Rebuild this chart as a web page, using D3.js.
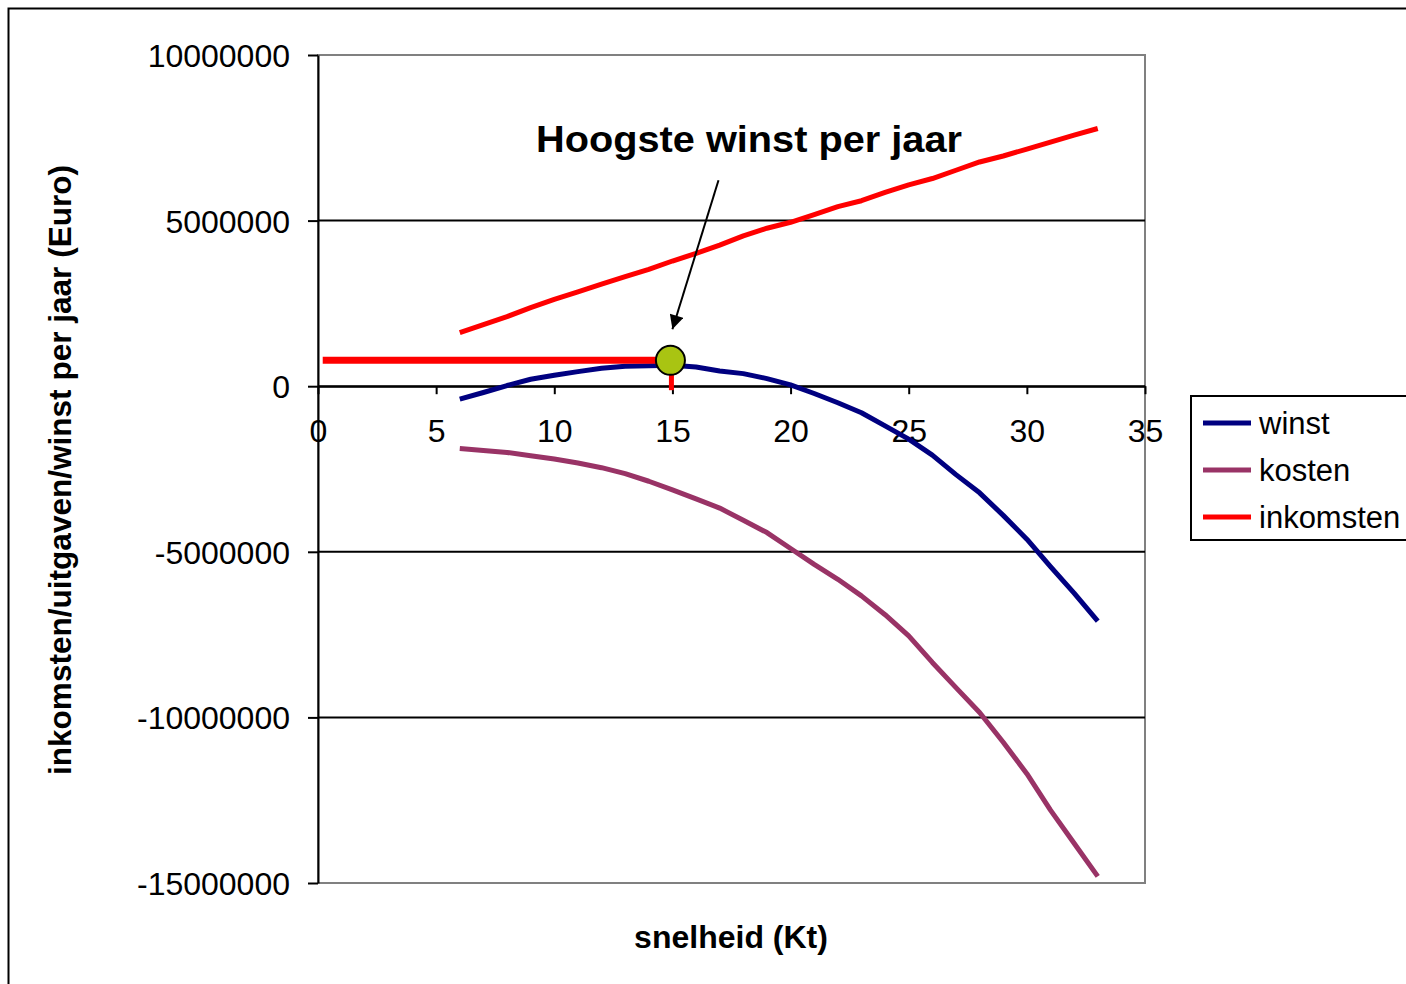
<!DOCTYPE html>
<html>
<head>
<meta charset="utf-8">
<script src="https://cdn.jsdelivr.net/npm/d3@7"></script>
<style>
  body { margin: 0; background: #fff; }
  text { font-family: "Liberation Sans", Arial, sans-serif; }
</style>
</head>
<body>
<script>
// snelheid in knopen
const knots = [6, 7, 8, 9, 10, 11, 12, 13, 14, 15, 16, 17, 18, 19, 20,
  21, 22, 23, 24, 25, 26, 27, 28, 29, 30, 31, 32, 33];

const winst = [-390000, -190000, 20000, 210000, 330000, 440000, 540000, 600000,
  620000, 630000, 580000, 460000, 380000, 230000, 40000, -220000, -500000,
  -800000, -1200000, -1600000, -2080000, -2670000, -3220000, -3900000,
  -4620000, -5450000, -6250000, -7090000];

const kosten = [-1880000, -1940000, -2000000, -2100000, -2200000, -2320000,
  -2460000, -2640000, -2870000, -3130000, -3400000, -3680000, -4050000,
  -4420000, -4900000, -5380000, -5830000, -6330000, -6900000, -7540000,
  -8340000, -9100000, -9850000, -10750000, -11700000, -12800000, -13800000,
  -14800000];

const inkomsten = [1620000, 1860000, 2100000, 2370000, 2620000, 2850000,
  3080000, 3310000, 3530000, 3780000, 4010000, 4260000, 4540000, 4770000,
  4950000, 5180000, 5420000, 5600000, 5850000, 6080000, 6270000, 6520000,
  6770000, 6950000, 7160000, 7370000, 7580000, 7780000];

const xTicks = [0, 5, 10, 15, 20, 25, 30, 35];
const yTicks = [10000000, 5000000, 0, -5000000, -10000000, -15000000];

// optimum marker
const bestSpeed = 15;
const bestLevel = 780000;
const markerStart = 0.2;
const markerBottom = -120000;
const arrowFrom = [16.95, 6220000];
const arrowTo = [15.0, 1720000];

const series = [
  { name: "winst", values: winst, color: "#000080" },
  { name: "kosten", values: kosten, color: "#993366" },
  { name: "inkomsten", values: inkomsten, color: "#ff0000" },
];

const W = 1406, H = 984;
const margin = { top: 55, left: 318, right: 261, bottom: 101 };
const width = W - margin.left - margin.right;
const height = H - margin.top - margin.bottom;

const svg = d3.select("body").append("svg")
  .attr("width", W)
  .attr("height", H);

// outer chart border
svg.append("rect")
  .attr("x", 8.5).attr("y", 8.5)
  .attr("width", W + 20).attr("height", H + 20)
  .attr("fill", "none").attr("stroke", "#000").attr("stroke-width", 2);

const g = svg.append("g")
  .attr("transform", `translate(${margin.left},${margin.top})`);

const x = d3.scaleLinear().domain([0, 35]).range([0, width]);
const y = d3.scaleLinear().domain([-15000000, 10000000]).range([height, 0]);

// plot frame (grey)
g.append("rect")
  .attr("x", 0).attr("y", 0)
  .attr("width", width).attr("height", height)
  .attr("fill", "none").attr("stroke", "#808080").attr("stroke-width", 2);

// gridlines
g.append("g")
  .selectAll("line")
  .data(yTicks.filter((d) => d !== 10000000 && d !== -15000000))
  .join("line")
  .attr("x1", 0).attr("x2", width)
  .attr("y1", (d) => y(d)).attr("y2", (d) => y(d))
  .attr("stroke", "#000").attr("stroke-width", 2);

// y axis
const yaxis = d3.axisLeft(y).tickValues(yTicks).tickSizeInner(10).tickSizeOuter(0)
  .tickPadding(18).tickFormat((d) => String(d));
g.append("g").call(yaxis)
  .call((s) => s.select(".domain").attr("stroke", "#000").attr("stroke-width", 2))
  .call((s) => s.selectAll(".tick line").attr("stroke", "#000").attr("stroke-width", 2))
  .call((s) => s.selectAll(".tick text")
    .attr("font-family", "Liberation Sans, Arial, sans-serif")
    .attr("font-size", 32).attr("fill", "#000").attr("dy", "0.36em"));

// x axis on the zero line
const xaxis = d3.axisBottom(x).tickValues(xTicks).tickSizeInner(8).tickSizeOuter(0)
  .tickPadding(32);
g.append("g")
  .attr("transform", `translate(0,${y(0)})`)
  .call(xaxis)
  .call((s) => s.select(".domain").attr("stroke", "#000").attr("stroke-width", 2))
  .call((s) => s.selectAll(".tick line").attr("stroke", "#000").attr("stroke-width", 2))
  .call((s) => s.selectAll(".tick text")
    .attr("font-family", "Liberation Sans, Arial, sans-serif")
    .attr("font-size", 32).attr("fill", "#000").attr("dy", "0.5em"));

// series lines
const line = d3.line()
  .x((d, i) => x(knots[i]))
  .y((d) => y(d));

g.append("g")
  .selectAll("path")
  .data(series)
  .join("path")
  .attr("d", (s) => line(s.values))
  .attr("fill", "none")
  .attr("stroke", (s) => s.color)
  .attr("stroke-width", 5)
  .attr("stroke-linejoin", "round");

// optimum markers
g.append("line")
  .attr("x1", x(markerStart)).attr("x2", x(bestSpeed) - 8)
  .attr("y1", y(bestLevel)).attr("y2", y(bestLevel))
  .attr("stroke", "#ff0000").attr("stroke-width", 7);
g.append("line")
  .attr("x1", x(bestSpeed) - 1).attr("x2", x(bestSpeed) - 1)
  .attr("y1", y(bestLevel)).attr("y2", y(markerBottom))
  .attr("stroke", "#ff0000").attr("stroke-width", 5);
g.append("circle")
  .attr("cx", x(bestSpeed) - 2).attr("cy", y(bestLevel))
  .attr("r", 14.5)
  .attr("fill", "#a9c412").attr("stroke", "#000").attr("stroke-width", 2);

// arrow
svg.append("defs").append("marker")
  .attr("id", "arrow")
  .attr("viewBox", "0 0 10 10")
  .attr("refX", 10).attr("refY", 5)
  .attr("markerWidth", 16).attr("markerHeight", 14)
  .attr("markerUnits", "userSpaceOnUse")
  .attr("orient", "auto")
  .append("path")
  .attr("d", "M0,0 L10,5 L0,10 z")
  .attr("fill", "#000");

g.append("line")
  .attr("x1", x(arrowFrom[0])).attr("y1", y(arrowFrom[1]))
  .attr("x2", x(arrowTo[0])).attr("y2", y(arrowTo[1]))
  .attr("stroke", "#000").attr("stroke-width", 2)
  .attr("marker-end", "url(#arrow)");

svg.append("text")
  .attr("x", 536).attr("y", 152)
  .attr("font-family", "DejaVu Sans, Verdana, sans-serif")
  .attr("font-weight", "bold")
  .attr("font-size", 37)
  .attr("textLength", 426)
  .attr("lengthAdjust", "spacingAndGlyphs")
  .text("Hoogste winst per jaar");

// axis titles
svg.append("text")
  .attr("x", 731).attr("y", 948)
  .attr("text-anchor", "middle")
  .attr("font-weight", "bold").attr("font-size", 32)
  .text("snelheid (Kt)");

svg.append("text")
  .attr("transform", "translate(71,470) rotate(-90)")
  .attr("text-anchor", "middle")
  .attr("font-weight", "bold").attr("font-size", 32)
  .attr("textLength", 610)
  .attr("lengthAdjust", "spacingAndGlyphs")
  .text("inkomsten/uitgaven/winst per jaar (Euro)");

// legend
const legend = svg.append("g").attr("transform", "translate(1191,396)");
legend.append("rect")
  .attr("x", 0).attr("y", 0)
  .attr("width", 240).attr("height", 144)
  .attr("fill", "#fff").attr("stroke", "#000").attr("stroke-width", 2);

const items = legend.selectAll("g.item")
  .data(series)
  .join("g")
  .attr("class", "item")
  .attr("transform", (d, i) => `translate(0,${27 + i * 47})`);
items.append("line")
  .attr("x1", 12).attr("x2", 60)
  .attr("stroke", (d) => d.color).attr("stroke-width", 5);
items.append("text")
  .attr("x", 68).attr("dy", "0.36em")
  .attr("font-size", 31)
  .text((d) => d.name);
</script>
</body>
</html>
